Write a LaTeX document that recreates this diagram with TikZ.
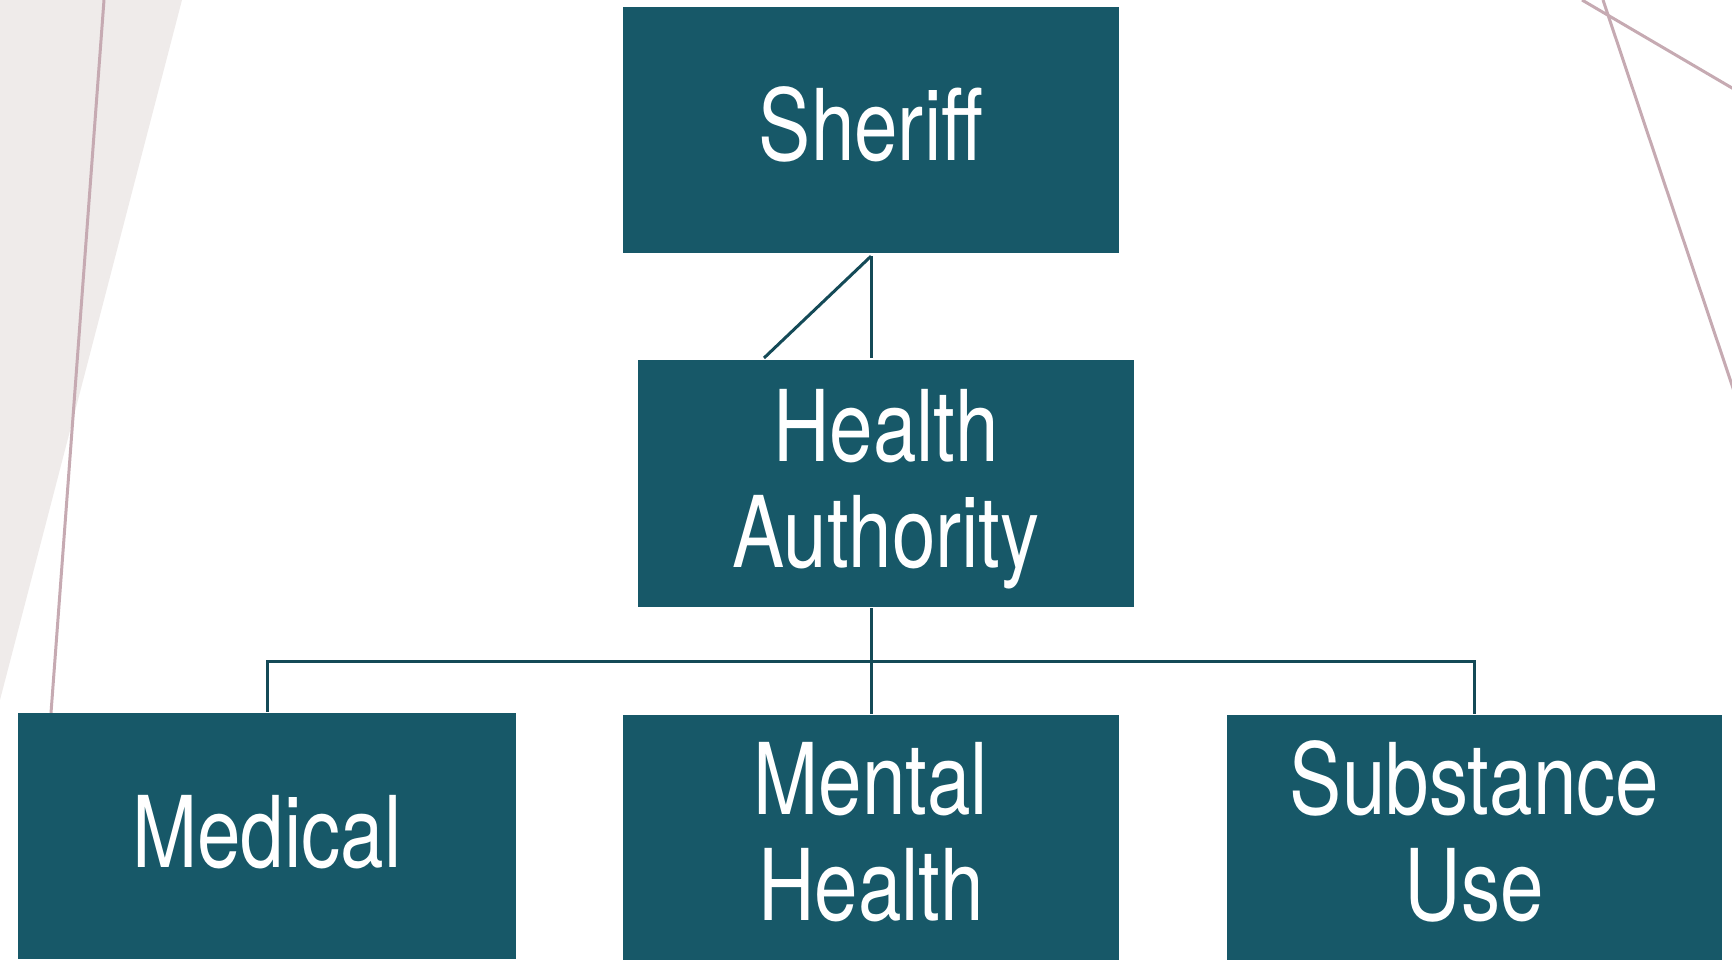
\documentclass[tikz,border=0pt]{standalone}
\usepackage{fontspec}
\setmainfont{TeX Gyre Heros}[FakeStretch=0.79]
\definecolor{boxteal}{RGB}{23,88,104}
\definecolor{linkteal}{RGB}{20,74,87}
\definecolor{decopink}{RGB}{198,170,178}
\definecolor{decogray}{RGB}{239,235,234}
\begin{document}
\begin{tikzpicture}[x=1pt,y=-1pt,
  orgbox/.style={fill=boxteal, draw=none, minimum width=496pt, minimum height=246pt,
    inner sep=0pt, text=white, align=center, font=\fontsize{99}{106}\selectfont},
  link/.style={draw=linkteal, line width=3pt},
  deco/.style={draw=decopink, line width=3pt}]
\useasboundingbox (0,0) rectangle (1732,959);
% background decoration
\fill[decogray] (0,0) -- (182,0) -- (0,700) -- cycle;
\draw[deco] (104,0) -- (51,713);
\draw[deco] (1582,0) -- (1745,95.6);
\draw[deco] (1603,0) -- (1738,403);
% boxes
\node[orgbox] (sheriff) at (871,130) {Sheriff\rule[-12pt]{0pt}{0pt}};
\node[orgbox, minimum height=247pt] (ha) at (886,483.5) {\rule{0pt}{83pt}Health\\Authority};
\node[orgbox, minimum width=498pt] (medical) at (267,836) {Medical\rule[-9pt]{0pt}{0pt}};
\node[orgbox] (mental) at (871,838) {Mental\\Health\rule[-14pt]{0pt}{0pt}};
\node[orgbox, minimum width=495pt] (substance) at (1474.5,838) {Substance\\Use\rule[-14pt]{0pt}{0pt}};
% connectors
\coordinate (diagend) at (764,358);
\coordinate (bus) at (871,661);
\draw[link] ([yshift=-3pt]sheriff.south) -- ([yshift=2pt]ha.north -| sheriff.south);
\draw[link] ([yshift=-3pt]sheriff.south) -- (diagend);
\draw[link] ([yshift=-1pt]ha.south -| mental.north) -- ([yshift=1pt]mental.north);
\draw[link] ([yshift=1pt]medical.north) |- (bus) -| ([yshift=1pt]substance.north);
\end{tikzpicture}
\end{document}
